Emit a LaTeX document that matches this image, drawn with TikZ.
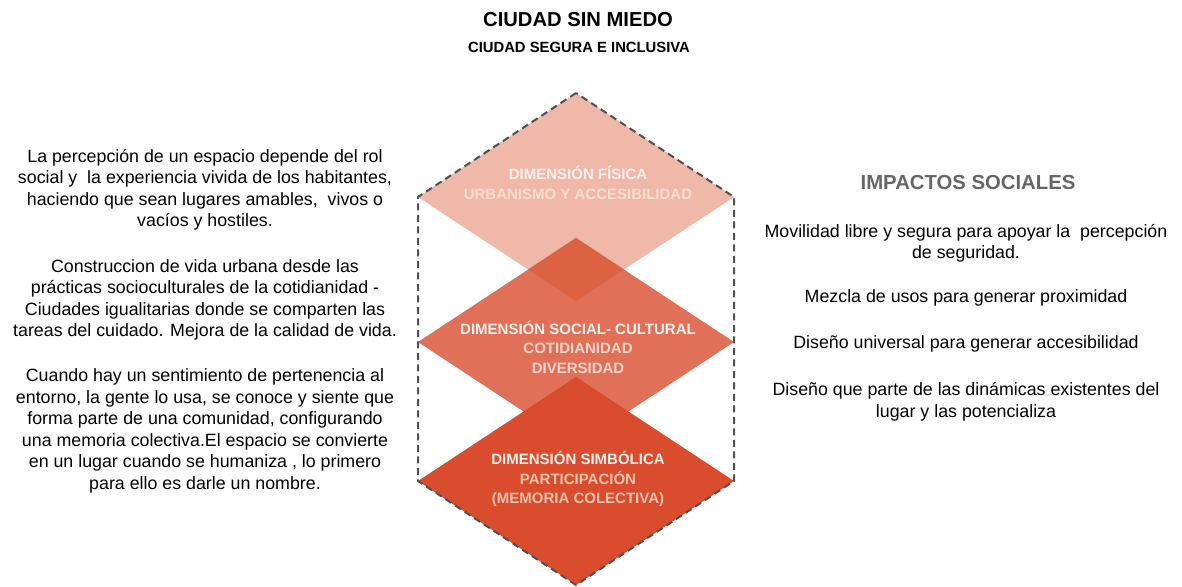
\documentclass[tikz,border=0pt]{standalone}
\usepackage{fontspec}
\setmainfont{Liberation Sans}
\usepackage{tikz}

\definecolor{fisica}{HTML}{F0B8A8}
\definecolor{social}{HTML}{E07058}
\definecolor{cruce}{HTML}{DC6244}
\definecolor{simbolica}{HTML}{D94C2E}
\definecolor{guion}{HTML}{505050}
\definecolor{gris}{HTML}{666666}
\definecolor{claro}{HTML}{FBF1EC}
\definecolor{rosafis}{HTML}{F8DDD3}
\definecolor{rosasoc}{HTML}{F8D8CC}
\definecolor{rosasim}{HTML}{F2C4AE}

\begin{document}
\begin{tikzpicture}[x=1pt,y=-1pt,
        texto/.style={align=center,inner sep=0pt,font=\fontsize{17.8}{21.5}\selectfont},
        dimension/.style={align=center,inner sep=0pt,text=claro,font=\bfseries\fontsize{15}{19.5}\selectfont}]
        \useasboundingbox (0,0) rectangle (1182,586);

        % rombos
        \fill[fisica] (576,93) -- (418,197) -- (576,301) -- (734,197) -- cycle;
        \fill[social] (576,238) -- (418,342) -- (576,446) -- (734,342) -- cycle;
        \begin{scope}
            \clip (576,93) -- (418,197) -- (576,301) -- (734,197) -- cycle;
            \fill[cruce] (576,238) -- (418,342) -- (576,446) -- (734,342) -- cycle;
        \end{scope}
        \fill[simbolica] (576,377) -- (418,481) -- (576,585) -- (734,481) -- cycle;

        % contorno
        \draw[guion,line width=2pt,dash pattern=on 7pt off 4.5pt]
            (576,93) -- (418,197) -- (418,481) -- (576,585) -- (734,481) -- (734,197) -- cycle;

        \node[font=\bfseries\fontsize{20.2}{22}\selectfont,inner sep=0pt] (titulo) at (578,20) {CIUDAD SIN MIEDO};
        \node[font=\bfseries\fontsize{14.8}{16}\selectfont,inner sep=0pt] (subtitulo) at (579,47) {CIUDAD SEGURA E INCLUSIVA};

        \node[dimension] (fisica) at (578,183) {DIMENSIÓN FÍSICA\\\textcolor{rosafis}{URBANISMO Y ACCESIBILIDAD}};
        \node[dimension] (social) at (578,347) {DIMENSIÓN SOCIAL- CULTURAL\\\textcolor{rosasoc}{COTIDIANIDAD}\\\textcolor{rosasoc}{DIVERSIDAD}};
        \node[dimension] (simbolica) at (578,479) {DIMENSIÓN SIMBÓLICA\\\textcolor{rosasim}{PARTICIPACIÓN}\\\textcolor{rosasim}{(MEMORIA COLECTIVA)}};

        \node[texto] (percepcion) at (205,190) {La percepción de un espacio depende del rol\\social y~ la experiencia vivida de los habitantes,\\haciendo que sean lugares amables,~ vivos o\\vacíos y hostiles.};
        \node[texto] (construccion) at (205,300) {Construccion de vida urbana desde las\\prácticas socioculturales de la cotidianidad -\\Ciudades igualitarias donde se comparten las\\tareas del cuidado. Mejora de la calidad de vida.};
        \node[texto] (pertenencia) at (205,431) {Cuando hay un sentimiento de pertenencia al\\entorno, la gente lo usa, se conoce y siente que\\forma parte de una comunidad, configurando\\una memoria colectiva.El espacio se convierte\\en un lugar cuando se humaniza , lo primero\\para ello es darle un nombre.};

        \node[text=gris,font=\bfseries\fontsize{20.3}{22}\selectfont,inner sep=0pt] (impactos) at (968,183) {IMPACTOS SOCIALES};
        \node[texto] (movilidad) at (966,243.5) {Movilidad libre y segura para apoyar la~ percepción\\de seguridad.};
        \node[texto] (mezcla) at (966,298) {Mezcla de usos para generar proximidad};
        \node[texto] (diseno) at (966,344) {Diseño universal para generar accesibilidad};
        \node[texto] (dinamicas) at (966,402) {Diseño que parte de las dinámicas existentes del\\lugar y las potencializa};
    \end{tikzpicture}
\end{document}
